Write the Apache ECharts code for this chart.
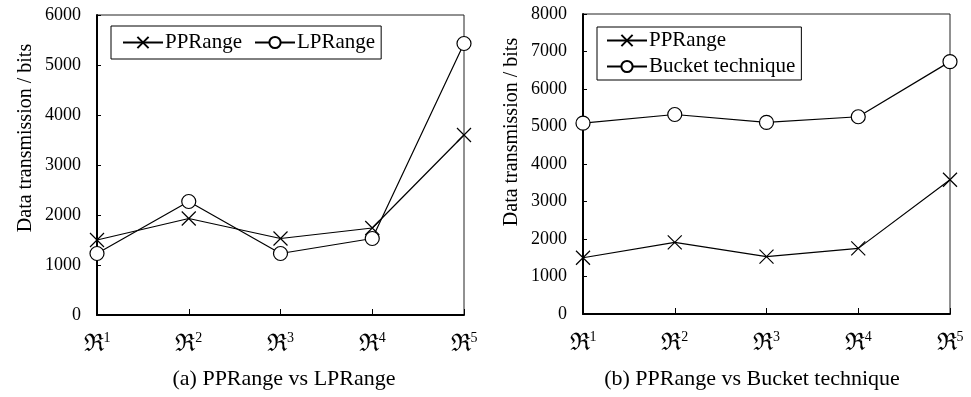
<!DOCTYPE html>
<html><head><meta charset="utf-8">
<script src="https://cdn.jsdelivr.net/npm/echarts@6/dist/echarts.min.js"></script>
<style>html,body{margin:0;padding:0;background:#fff}#c{width:971px;height:397px}</style>
</head><body><div id="c"></div>
<script>
const categories = ['1', '2', '3', '4', '5'];
const ppRangeA = [1500, 1930, 1530, 1740, 3600];
const lpRangeA = [1230, 2270, 1230, 1530, 5430];
const ppRangeB = [1500, 1910, 1530, 1750, 3580];
const bucketB = [5090, 5320, 5110, 5260, 6730];
const yTicksA = { min: 0, max: 6000, interval: 1000 };
const yTicksB = { min: 0, max: 8000, interval: 1000 };
const captions = ['(a) PPRange vs LPRange', '(b) PPRange vs Bucket technique'];
const yName = 'Data transmission / bits';

const FONT = "'Liberation Serif','DejaVu Serif',serif";
const crossPath = 'path://M0,0L10,10M10,0L0,10';

function xAxis(gi) {
  return {
    type: 'category', gridIndex: gi, data: categories, boundaryGap: false,
    axisLine: { lineStyle: { color: '#000', width: 2 } },
    axisTick: { inside: true, length: 6, lineStyle: { color: '#000' } },
    axisLabel: {
      margin: 16, color: '#000',
      formatter: v => '{r|ℜ}{s|' + v + '}',
      rich: {
        r: { fontFamily: FONT, fontSize: 24, color: '#000' },
        s: { fontFamily: FONT, fontSize: 14, color: '#000', verticalAlign: 'bottom', padding: [0, 0, 13, 0] }
      }
    },
    splitLine: { show: false }
  };
}
function yAxis(gi, t, shift) {
  return {
    type: 'value', gridIndex: gi, min: t.min, max: t.max, interval: t.interval,
    name: yName, nameLocation: 'middle', nameGap: 61, nameRotate: 90,
    nameTextStyle: { fontFamily: FONT, fontSize: 20, color: '#000', padding: [0, 0, 0, shift] },
    axisLine: { show: true, lineStyle: { color: '#000', width: 2 } },
    axisTick: { show: true, inside: true, length: 4, lineStyle: { color: '#000' } },
    axisLabel: { fontFamily: FONT, fontSize: 18, color: '#000', margin: 16, formatter: v => String(v) },
    splitLine: { show: false }
  };
}
function ppSeries(name, xi, data) {
  return {
    name, type: 'line', xAxisIndex: xi, yAxisIndex: xi, data,
    symbol: crossPath, symbolSize: 14,
    lineStyle: { color: '#000', width: 1.2 },
    itemStyle: { color: 'none', borderColor: '#000', borderWidth: 1.2 },
    emphasis: { disabled: true }, animation: false
  };
}
function circSeries(name, xi, data) {
  return {
    name, type: 'line', xAxisIndex: xi, yAxisIndex: xi, data,
    symbol: 'circle', symbolSize: 14,
    lineStyle: { color: '#000', width: 1.2 },
    itemStyle: { color: '#fff', borderColor: '#000', borderWidth: 1.2 },
    emphasis: { disabled: true }, animation: false
  };
}

const chart = echarts.init(document.getElementById('c'), null, { renderer: 'canvas' });
chart.setOption({
  animation: false,
  grid: [
    { left: 97, top: 15, width: 367, height: 300, show: true, borderColor: '#222', borderWidth: 1 },
    { left: 583, top: 14, width: 367, height: 300, show: true, borderColor: '#222', borderWidth: 1 }
  ],
  xAxis: [xAxis(0), xAxis(1)],
  yAxis: [yAxis(0, yTicksA, 54), yAxis(1, yTicksB, 64)],
  legend: [
    {
      data: ['PPRange', 'LPRange'], left: 111, top: 26, orient: 'horizontal',
      itemWidth: 40, itemHeight: 14, itemGap: 12, padding: [6, 6, 6, 11],
      borderColor: '#000', borderWidth: 1,
      textStyle: { fontFamily: FONT, fontSize: 21, color: '#000', padding: [0, 0, 0, -3] }
    },
    {
      data: ['PPRange ', 'Bucket technique'], left: 597, top: 27, orient: 'vertical',
      itemWidth: 40, itemHeight: 14, itemGap: 5, padding: [3, 6, 3, 9],
      borderColor: '#000', borderWidth: 1,
      textStyle: { fontFamily: FONT, fontSize: 21, color: '#000', padding: [0, 0, 0, -3] }
    }
  ],
  series: [
    ppSeries('PPRange', 0, ppRangeA),
    circSeries('LPRange', 0, lpRangeA),
    ppSeries('PPRange ', 1, ppRangeB),
    circSeries('Bucket technique', 1, bucketB)
  ],
  graphic: [
    { type: 'text', x: 284, y: 379, style: { text: captions[0], fontFamily: FONT, fontSize: 22, fill: '#000', textAlign: 'center', textVerticalAlign: 'middle' } },
    { type: 'text', x: 752, y: 379, style: { text: captions[1], fontFamily: FONT, fontSize: 22, fill: '#000', textAlign: 'center', textVerticalAlign: 'middle' } }
  ]
});
</script></body></html>
